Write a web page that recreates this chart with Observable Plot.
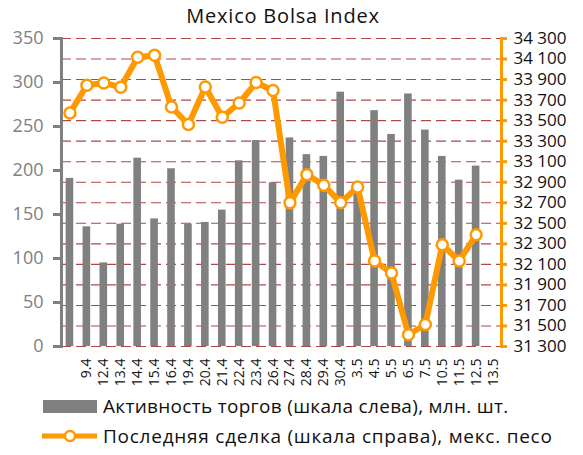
<!DOCTYPE html>
<html>
<head>
<meta charset="utf-8">
<script src="https://cdn.jsdelivr.net/npm/d3@7"></script>
<script src="https://cdn.jsdelivr.net/npm/@observablehq/plot@0.6"></script>
<style>
  body { margin: 0; background: #fff; }
  #wrap { position: relative; width: 583px; height: 455px; overflow: hidden; font-family: "Open Sans", sans-serif; }
  #title { position: absolute; left: 0; top: 2px; width: 566px; text-align: center; font-size: 20px; letter-spacing: 0.8px; color: #111; }
  #chart { position: absolute; left: 0; top: 30px; }
  .leg { position: absolute; left: 40px; display: flex; align-items: center; font-size: 19px; letter-spacing: 0.3px; color: #111; white-space: nowrap; }
  .leg svg { margin-right: 5px; }
</style>
</head>
<body>
<div id="wrap">
  <div id="title">Mexico Bolsa Index</div>
  <div id="chart"></div>
  <div class="leg" style="top:393px"><svg width="58" height="20"><rect x="3" y="4" width="54" height="13" fill="#808080"></rect></svg><span>Активность торгов (шкала слева), млн. шт.</span></div>
  <div class="leg" style="top:423px;letter-spacing:0.75px"><svg width="58" height="20"><line x1="2" x2="57" y1="10" y2="10" stroke="#ff9900" stroke-width="5"></line><circle cx="30" cy="10" r="5" fill="#fff" stroke="#ff9900" stroke-width="2.5"></circle></svg><span>Последняя сделка (шкала справа), мекс. песо</span></div>
</div>
<script>
// Category slots: the first slot carries no label, the last label has no data
const labels = ["", "9.4", "12.4", "13.4", "14.4", "15.4", "16.4", "19.4", "20.4", "21.4", "22.4", "23.4", "26.4",
  "27.4", "28.4", "29.4", "30.4", "3.5", "4.5", "5.5", "6.5", "7.5", "10.5", "11.5", "12.5", "13.5"];
// Trading volume (left scale), mln shares
const volume = [191, 136, 95, 139, 214, 145, 202, 139, 141, 155, 211, 234, 186, 237,
  218, 216, 289, 178, 268, 241, 287, 246, 216, 189, 205];
// Last trade price (right scale), MXN
const price = [33575, 33845, 33867, 33825, 34118, 34137, 33633, 33462, 33828, 33533, 33672, 33871, 33793,
  32699, 32974, 32870, 32701, 32853, 32134, 32015, 31414, 31514, 32291, 32132, 32389];
// Axis ticks
const volTicks = [0, 50, 100, 150, 200, 250, 300, 350];
const priceTicks = [31300, 31500, 31700, 31900, 32100, 32300, 32500, 32700, 32900, 33100, 33300, 33500, 33700, 33900, 34100, 34300];

const volMax = 350, pMin = 31300, pMax = 34300;
const priceToY = p => (p - pMin) * volMax / (pMax - pMin);
const yToPrice = y => Math.round(pMin + y * (pMax - pMin) / volMax);
const fmtPrice = p => `${Math.floor(p / 1000)} ${String(p % 1000).padStart(3, "0")}`;

const slots = labels.map((_, i) => i);
const rows = volume.map((v, i) => ({slot: i, volume: v, price: price[i]}));

const chart = Plot.plot({
  width: 583,
  height: 362,
  marginLeft: 61,
  marginRight: 82,
  marginTop: 8,
  marginBottom: 46,
  style: {fontFamily: "Open Sans, sans-serif", background: "#fff", overflow: "visible"},
  x: {type: "band", domain: slots, paddingInner: 0.55, paddingOuter: 0.275, round: false, axis: null, label: null},
  y: {domain: [0, volMax], axis: null, label: null},
  marks: [
    Plot.ruleY(priceTicks, {y: priceToY, stroke: "#b04848", strokeWidth: 1.1, strokeDasharray: "10,5"}),
    Plot.barY(rows, {x: "slot", y: "volume", fill: "#808080"}),
    Plot.line(rows, {x: "slot", y: d => priceToY(d.price), stroke: "#ff9900", strokeWidth: 6, strokeLinejoin: "round"}),
    Plot.dot(rows, {x: "slot", y: d => priceToY(d.price), r: 5.5, fill: "#fff", stroke: "#ff9900", strokeWidth: 2.5}),
    Plot.frame({anchor: "left", stroke: "#808080", strokeWidth: 3}),
    Plot.frame({anchor: "right", stroke: "#ff9900", strokeWidth: 3}),
    Plot.axisY(volTicks, {anchor: "left", label: null, tickSize: 8, tickPadding: 10, stroke: "#808080", strokeWidth: 3, fill: "#808080", fontSize: 18, style: {letterSpacing: "0.8px"}}),
    Plot.axisY(priceTicks.map(priceToY), {anchor: "right", label: null, tickSize: 5, tickPadding: 7, stroke: "#ff9900", strokeWidth: 3, fill: "#111", fontSize: 17, tickFormat: y => fmtPrice(yToPrice(y)), style: {letterSpacing: "1.2px"}}),
    Plot.axisX(slots.filter(i => labels[i] !== ""), {label: null, tickFormat: i => labels[i], tickRotate: -90, tickSize: 0, tickPadding: 12, fontSize: 14, fill: "#111"})
  ]
});
document.getElementById("chart").appendChild(chart);
</script>
</body>
</html>
